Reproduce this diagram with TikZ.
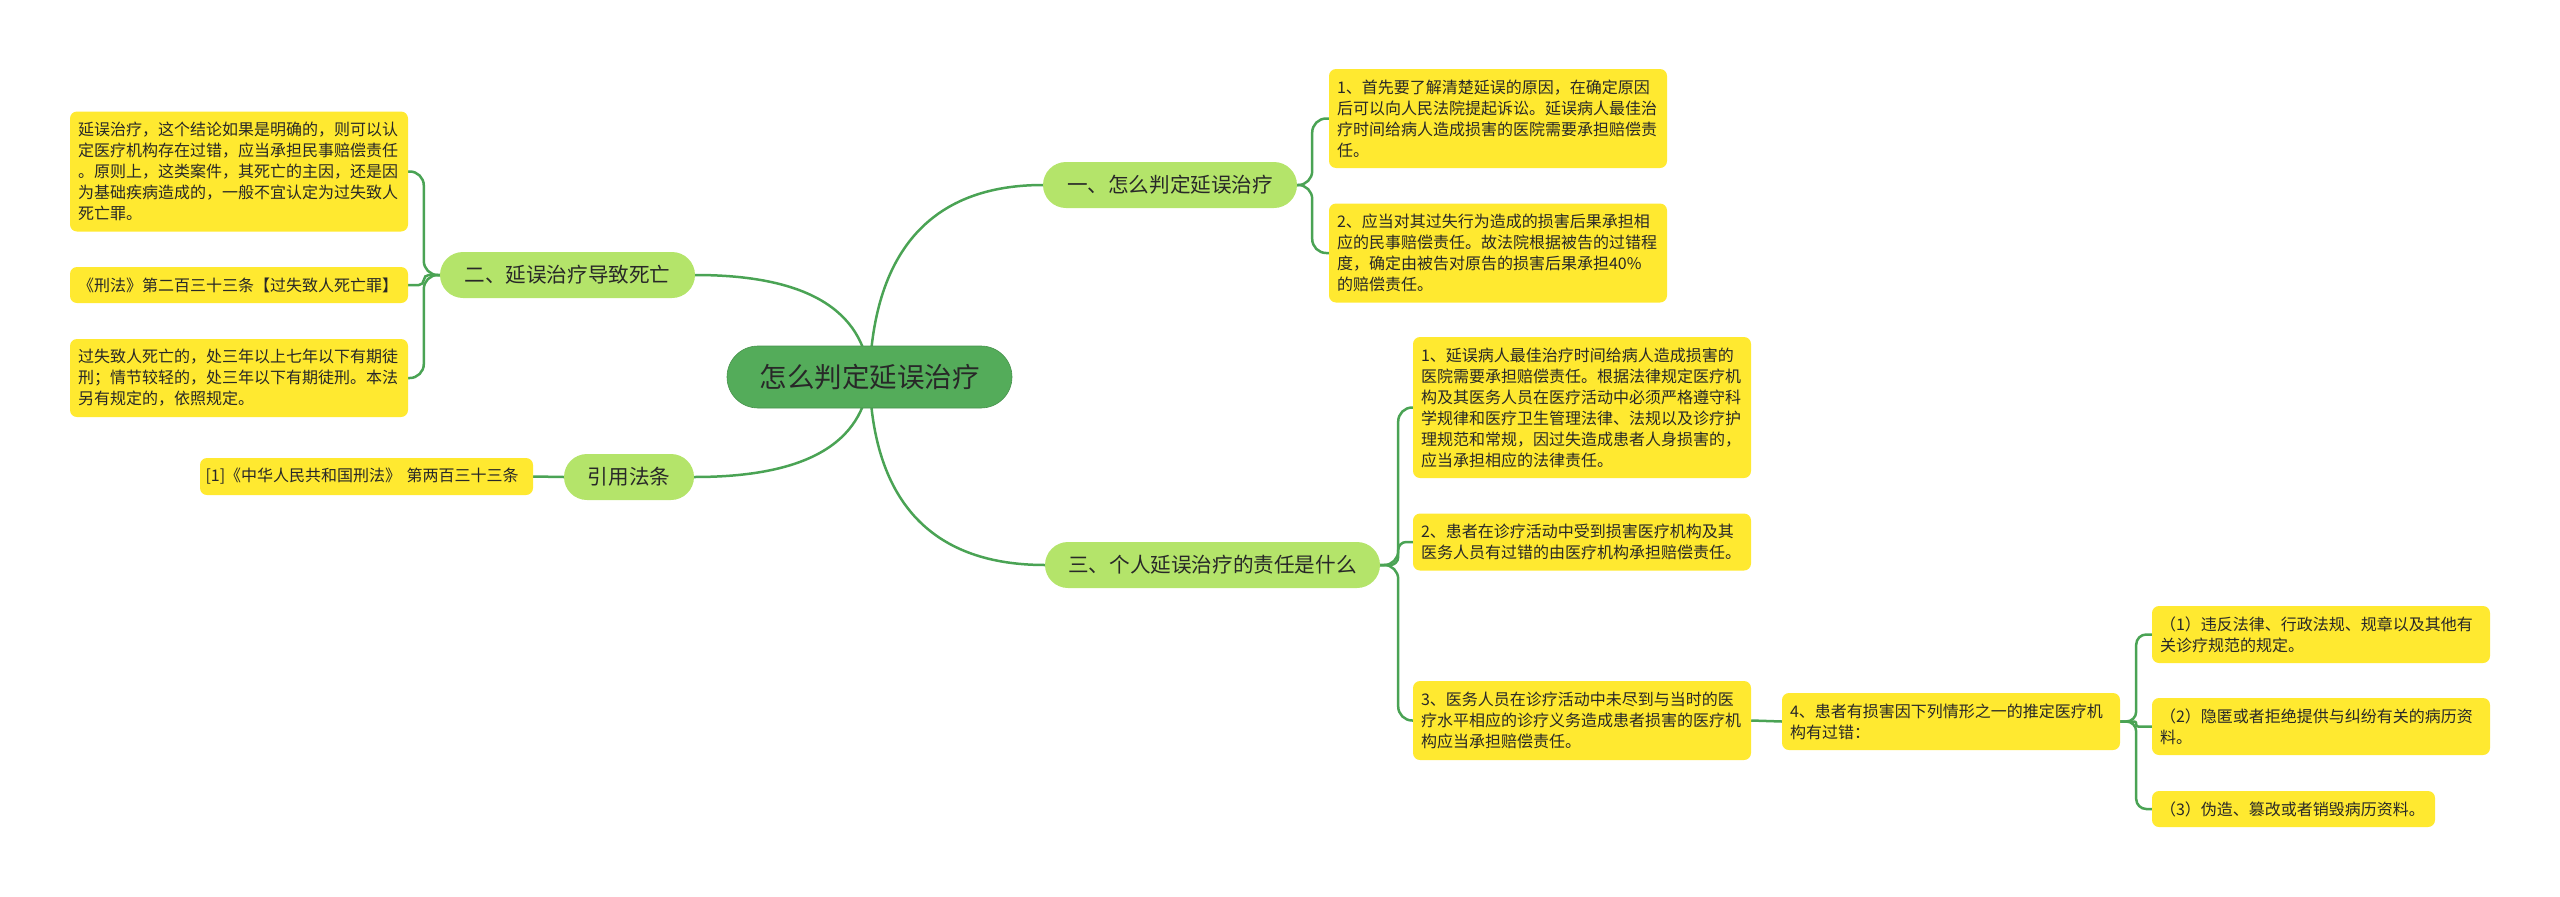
\documentclass[tikz,border=0pt]{standalone}
\usepackage{fontspec}
\newfontfamily\cjk{Noto Sans CJK SC}
\usetikzlibrary{backgrounds,calc}
\definecolor{linegreen}{RGB}{74,163,84}
\definecolor{rootgreen}{RGB}{84,172,90}
\definecolor{branchgreen}{RGB}{180,228,106}
\definecolor{leafyellow}{RGB}{255,233,48}
\definecolor{textdark}{RGB}{40,40,40}
\begin{document}
\begin{tikzpicture}[x=1pt,y=-1pt,
  rootbox/.style={fill=rootgreen, draw=rootgreen!85!black, line width=0.6pt, rounded corners=31pt, minimum width=285pt, minimum height=62pt, inner sep=0pt, text=textdark, font=\cjk\fontsize{27.5}{30}\selectfont},
  branchbox/.style={fill=branchgreen, rounded corners=23pt, minimum height=46pt, inner sep=0pt, text=textdark, font=\cjk\fontsize{20.6}{24}\selectfont},
  leafbox/.style={fill=leafyellow, rounded corners=7pt, text width=322pt, inner xsep=8pt, inner ysep=0pt, align=left, text=textdark, font=\cjk\fontsize{16}{21}\selectfont},
  conn/.style={draw=linegreen, line width=2.5pt}
]
\useasboundingbox (0,0) rectangle (2560,897);

% root
\node[rootbox] (root) at (869.5,377) {怎么判定延误治疗};

% branches
\node[branchbox, minimum width=254pt] (b1) at (1170,185) {一、怎么判定延误治疗};
\node[branchbox, minimum width=255pt] (b2) at (567.5,275) {二、延误治疗导致死亡};
\node[branchbox, minimum width=130pt] (b3) at (629,477) {引用法条};
\node[branchbox, minimum width=335pt] (b4) at (1212.5,565) {三、个人延误治疗的责任是什么};

% leaves of b1
\node[leafbox, minimum height=99pt] (l11) at (1498,118.5) {1、首先要了解清楚延误的原因，在确定原因\\后可以向人民法院提起诉讼。延误病人最佳治\\疗时间给病人造成损害的医院需要承担赔偿责\\任。};
\node[leafbox, minimum height=99pt] (l12) at (1498,253) {2、应当对其过失行为造成的损害后果承担相\\应的民事赔偿责任。故法院根据被告的过错程\\度，确定由被告对原告的损害后果承担40\%\\的赔偿责任。};

% leaves of b2
\node[leafbox, minimum height=120pt] (l21) at (239,171.5) {延误治疗，这个结论如果是明确的，则可以认\\定医疗机构存在过错，应当承担民事赔偿责任\\。原则上，这类案件，其死亡的主因，还是因\\为基础疾病造成的，一般不宜认定为过失致人\\死亡罪。};
\node[leafbox, minimum height=36pt] (l22) at (239,285) {《刑法》第二百三十三条【过失致人死亡罪】};
\node[leafbox, minimum height=78pt] (l23) at (239,378) {过失致人死亡的，处三年以上七年以下有期徒\\刑；情节较轻的，处三年以下有期徒刑。本法\\另有规定的，依照规定。};

% leaf of b3
\node[leafbox, inner xsep=5.5pt, minimum height=37pt] (l31) at (366.5,476.5) {[1]《中华人民共和国刑法》 第两百三十三条};

% leaves of b4
\node[leafbox, minimum height=141pt] (l41) at (1582,407.5) {1、延误病人最佳治疗时间给病人造成损害的\\医院需要承担赔偿责任。根据法律规定医疗机\\构及其医务人员在医疗活动中必须严格遵守科\\学规律和医疗卫生管理法律、法规以及诊疗护\\理规范和常规，因过失造成患者人身损害的，\\应当承担相应的法律责任。};
\node[leafbox, minimum height=57pt] (l42) at (1582,542) {2、患者在诊疗活动中受到损害医疗机构及其\\医务人员有过错的由医疗机构承担赔偿责任。};
\node[leafbox, minimum height=79pt] (l43) at (1582,720.5) {3、医务人员在诊疗活动中未尽到与当时的医\\疗水平相应的诊疗义务造成患者损害的医疗机\\构应当承担赔偿责任。};
\node[leafbox, minimum height=57pt] (l44) at (1951,721.5) {4、患者有损害因下列情形之一的推定医疗机\\构有过错：};

% sub leaves
\node[leafbox, minimum height=57pt] (s1) at (2321,634.5) {（1）违反法律、行政法规、规章以及其他有\\关诊疗规范的规定。};
\node[leafbox, minimum height=57pt] (s2) at (2321,726.5) {（2）隐匿或者拒绝提供与纠纷有关的病历资\\料。};
\node[leafbox, text width=267pt, minimum height=36pt] (s3) at (2293.5,809) {（3）伪造、篡改或者销毁病历资料。};

\begin{scope}[on background layer]
  % root to branches
  \draw[conn] (root.center) .. controls ($(root.center)+(4,-130)$) and ($(b1.west)+(-108,0)$) .. (b1.west);
  \draw[conn] (root.center) .. controls ($(root.center)+(-6,-68)$) and ($(b2.east)+(110,0)$) .. (b2.east);
  \draw[conn] (root.center) .. controls ($(root.center)+(-6,67)$) and ($(b3.east)+(111,0)$) .. (b3.east);
  \draw[conn] (root.center) .. controls ($(root.center)+(3,128)$) and ($(b4.west)+(-110,0)$) .. (b4.west);
  % b1 leaves
  \draw[conn, rounded corners=14pt] (b1.east) -- ++(15,0) |- (l11.west);
  \draw[conn, rounded corners=14pt] (b1.east) -- ++(15,0) |- (l12.west);
  % b2 leaves
  \draw[conn, rounded corners=14pt] (b2.west) -- ++(-16,0) |- (l21.east);
  \draw[conn, rounded corners=5pt] (b2.west) -- ++(-16,0) |- (l22.east);
  \draw[conn, rounded corners=14pt] (b2.west) -- ++(-16,0) |- (l23.east);
  % b3 leaf
  \draw[conn] (b3.west) -- (l31.east);
  % b4 leaves
  \draw[conn, rounded corners=14pt] (b4.east) -- ++(18,0) |- (l41.west);
  \draw[conn, rounded corners=8pt] (b4.east) -- ++(18,0) |- (l42.west);
  \draw[conn, rounded corners=14pt] (b4.east) -- ++(18,0) |- (l43.west);
  % l43 to l44
  \draw[conn] (l43.east) -- (l44.west);
  % subs
  \draw[conn, rounded corners=10pt] (l44.east) -- ++(16,0) |- (s1.west);
  \draw[conn, rounded corners=2pt] (l44.east) -- ++(16,0) |- (s2.west);
  \draw[conn, rounded corners=10pt] (l44.east) -- ++(16,0) |- (s3.west);
\end{scope}
\end{tikzpicture}
\end{document}
